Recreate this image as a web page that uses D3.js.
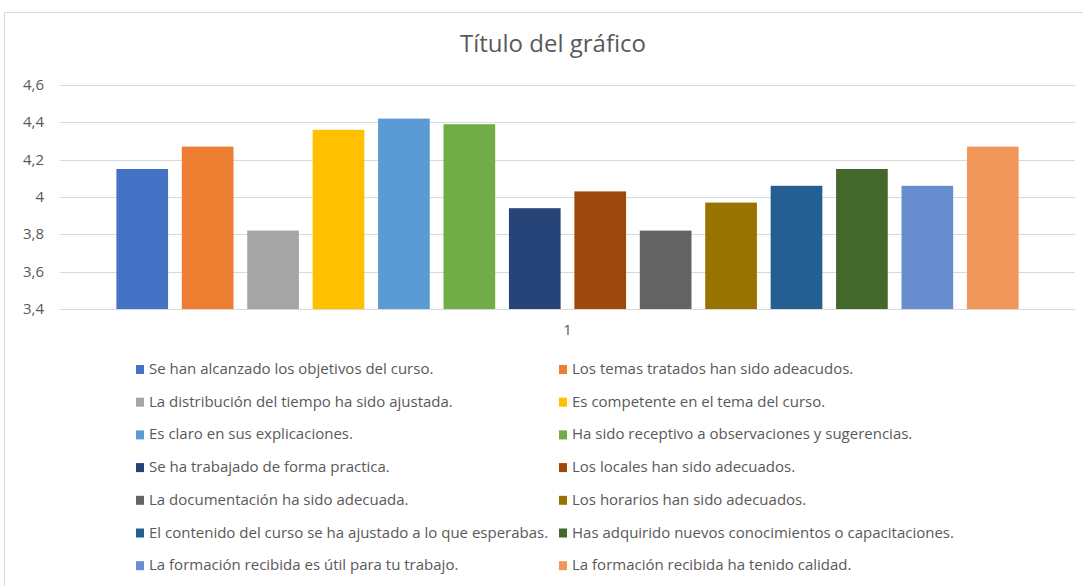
<!DOCTYPE html>
<html>
<head>
<meta charset="utf-8" />
<title>Título del gráfico</title>
<script src="https://d3js.org/d3.v7.min.js"></script>
<style>
  body { margin: 0; background: #fff; font-family: "Open Sans", sans-serif; }
  text { fill: #595959; }
</style>
</head>
<body>
<div id="chart"></div>
<script>
// data
const labels = [
  "Se han alcanzado los objetivos del curso.",
  "Los temas tratados han sido adeacudos.",
  "La distribución del tiempo ha sido ajustada.",
  "Es competente en el tema del curso.",
  "Es claro en sus explicaciones.",
  "Ha sido receptivo a observaciones y sugerencias.",
  "Se ha trabajado de forma practica.",
  "Los locales han sido adecuados.",
  "La documentación ha sido adecuada.",
  "Los horarios han sido adecuados.",
  "El contenido del curso se ha ajustado a lo que esperabas.",
  "Has adquirido nuevos conocimientos o capacitaciones.",
  "La formación recibida es útil para tu trabajo.",
  "La formación recibida ha tenido calidad."
];
const values = [4.15, 4.27, 3.82, 4.36, 4.42, 4.39, 3.94, 4.03, 3.82, 3.97, 4.06, 4.15, 4.06, 4.27];
const colors = ["#4472C4", "#ED7D31", "#A5A5A5", "#FFC000", "#5B9BD5", "#70AD47", "#264478",
                "#9E480E", "#636363", "#997300", "#255E91", "#43682B", "#698ED0", "#F1975A"];
const yTicks = [3.4, 3.6, 3.8, 4.0, 4.2, 4.4, 4.6];
const category = "1";

const width = 1083, height = 586;
const svg = d3.select("#chart").append("svg")
  .attr("width", width).attr("height", height);

// chart frame (right edge runs off the picture)
svg.append("rect")
  .attr("x", 4.5).attr("y", 12.5)
  .attr("width", 1090).attr("height", 600)
  .attr("fill", "#fff").attr("stroke", "#d9d9d9");

svg.append("text")
  .attr("x", 553).attr("y", 52)
  .attr("text-anchor", "middle")
  .style("font-size", "24px")
  .text("Título del gráfico");

const plotLeft = 60, plotRight = 1075;
const y = d3.scaleLinear().domain([3.4, 4.6]).range([309, 85]);

const x0 = d3.scaleBand().domain([category]).range([plotLeft, plotRight]).paddingInner(0).paddingOuter(0.0625);
const x1 = d3.scaleBand().domain(d3.range(values.length))
  .range([x0(category), x0(category) + x0.bandwidth()]).paddingInner(0.21).paddingOuter(0);

// gridlines
svg.append("g").selectAll("line").data(yTicks).join("line")
  .attr("x1", plotLeft).attr("x2", plotRight)
  .attr("y1", d => Math.round(y(d)) + 0.5).attr("y2", d => Math.round(y(d)) + 0.5)
  .attr("stroke", "#d9d9d9").attr("stroke-width", 1);

// y axis labels
const fmt = d => d3.format(".1~f")(d).replace(".", ",");
svg.append("g").selectAll("text").data(yTicks).join("text")
  .attr("x", 44).attr("y", d => y(d) + 5)
  .attr("text-anchor", "end")
  .style("font-size", "15px")
  .text(fmt);

// bars
svg.append("g").selectAll("rect").data(values).join("rect")
  .attr("x", (d, i) => x1(i))
  .attr("width", x1.bandwidth())
  .attr("y", d => y(d))
  .attr("height", d => y(3.4) - y(d))
  .attr("fill", (d, i) => colors[i]);

// category label
svg.append("text")
  .attr("x", x0(category) + x0.bandwidth() / 2).attr("y", 335)
  .attr("text-anchor", "middle")
  .style("font-size", "15px")
  .text(category);

// legend, two columns
const legend = svg.append("g").selectAll("g").data(labels).join("g")
  .attr("transform", (d, i) => `translate(${i % 2 === 0 ? 136 : 559},${374 + Math.floor(i / 2) * 32.7})`);
legend.append("rect")
  .attr("x", 0).attr("y", -9).attr("width", 8).attr("height", 9)
  .attr("fill", (d, i) => colors[i]);
legend.append("text")
  .attr("x", 13).attr("y", 0)
  .style("font-size", "15px")
  .text(d => d);
</script>
</body>
</html>
